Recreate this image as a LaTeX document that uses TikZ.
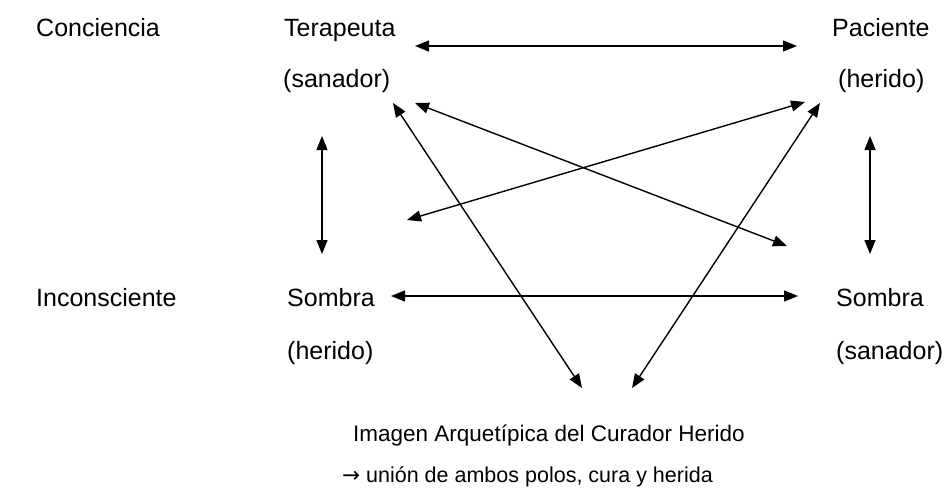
\documentclass[tikz,border=0pt]{standalone}
\usepackage{fontspec}
\setmainfont{Liberation Sans}
\newfontfamily\symfont{DejaVu Sans}
\usetikzlibrary{arrows.meta}
\begin{document}
\begin{tikzpicture}[x=1pt,y=-1pt,
  lbl/.style={anchor=base west,inner sep=0pt,font=\fontsize{25}{29}\selectfont},
  lbls/.style={anchor=base west,inner sep=0pt,font=\fontsize{22.5}{27}\selectfont},
  lblt/.style={anchor=base west,inner sep=0pt,font=\fontsize{21.5}{26}\selectfont},
  biarrow/.style={draw,line width=1.4pt,{Triangle[length=14pt,width=11pt]}-{Triangle[length=14pt,width=11pt]}}]
\useasboundingbox (0,0) rectangle (952,500);
% labels
\node[lbl] (conc) at (36,37) {Conciencia};
\node[lbl] (ter) at (284,37) {Terapeuta};
\node[lbl] (tersan) at (283,88) {(sanador)};
\node[lbl] (pac) at (832,37) {Paciente};
\node[lbl] (pacher) at (838,88) {(herido)};
\node[lbl] (incons) at (36,306) {Inconsciente};
\node[lbl] (sombL) at (287,306) {Sombra};
\node[lbl] (sombLher) at (287,359) {(herido)};
\node[lbl] (sombR) at (836,306) {Sombra};
\node[lbl] (sombRsan) at (836,359) {(sanador)};
\node[lbls] (img) at (353,441) {Imagen Arquetípica del Curador Herido};
\node[lblt] (union) at (342,482) {{\symfont →} unión de ambos polos, cura y herida};
% arrow endpoints
\coordinate (tA) at (415,46);
\coordinate (tB) at (797,46);
\coordinate (bA) at (391,296);
\coordinate (bB) at (798,296);
\coordinate (lvA) at (322,136);
\coordinate (lvB) at (322,254);
\coordinate (rvA) at (870,136);
\coordinate (rvB) at (870,254);
\coordinate (d1A) at (415,103);
\coordinate (d1B) at (787,246);
\coordinate (d2A) at (407,220);
\coordinate (d2B) at (805,102);
\coordinate (d3A) at (393,103);
\coordinate (d3B) at (582,388);
\coordinate (d4A) at (820,103);
\coordinate (d4B) at (632,388);
% arrows
\draw[biarrow] (tA) -- (tB);
\draw[biarrow] (bA) -- (bB);
\draw[biarrow] (lvA) -- (lvB);
\draw[biarrow] (rvA) -- (rvB);
\draw[biarrow] (d1A) -- (d1B);
\draw[biarrow] (d2A) -- (d2B);
\draw[biarrow] (d3A) -- (d3B);
\draw[biarrow] (d4A) -- (d4B);
\end{tikzpicture}
\end{document}
